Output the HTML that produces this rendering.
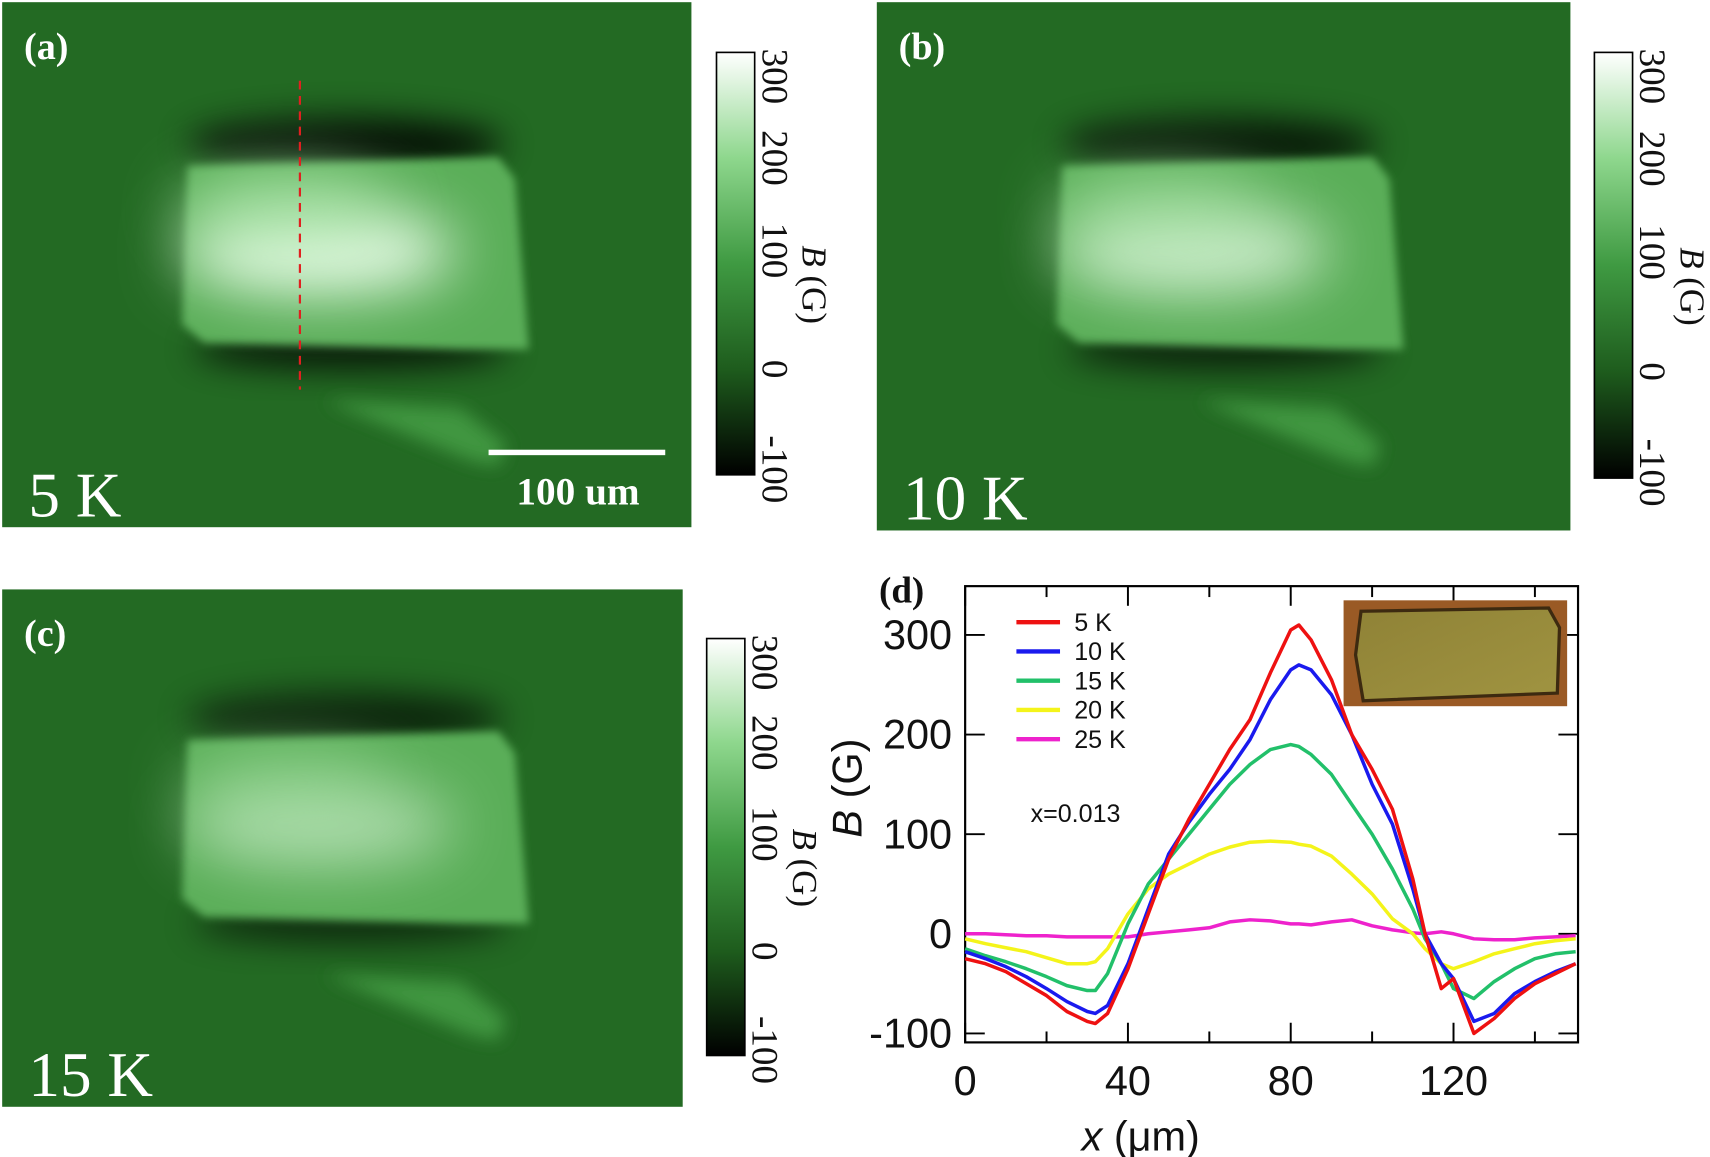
<!DOCTYPE html>
<html><head><meta charset="utf-8"><style>
html,body{margin:0;padding:0;background:#fff;}
svg{display:block;}
</style></head><body>
<svg id="fig" width="1710" height="1157" viewBox="0 0 1568 1060" preserveAspectRatio="none" xmlns="http://www.w3.org/2000/svg">
<defs>
<filter id="b3" x="-20%" y="-20%" width="140%" height="140%"><feGaussianBlur stdDeviation="4"/></filter>
<filter id="b8" x="-30%" y="-30%" width="160%" height="160%"><feGaussianBlur stdDeviation="8"/></filter>
<filter id="b15" x="-50%" y="-80%" width="200%" height="260%"><feGaussianBlur stdDeviation="15"/></filter>
<filter id="b25" x="-50%" y="-80%" width="200%" height="260%"><feGaussianBlur stdDeviation="28"/></filter>
<linearGradient id="cbar" x1="0" y1="1" x2="0" y2="0">
<stop offset="0" stop-color="#000"/>
<stop offset="0.25" stop-color="#1e5c1d"/>
<stop offset="0.5" stop-color="#3f9a42"/>
<stop offset="0.75" stop-color="#8ed78d"/>
<stop offset="1" stop-color="#fff"/>
</linearGradient>
<linearGradient id="photo" x1="0" y1="0" x2="1" y2="1">
<stop offset="0" stop-color="#8f8236"/><stop offset="1" stop-color="#a09441"/>
</linearGradient>
</defs>
<g id="maps"></g>
<g id="chart"></g>
</svg>
<script>
// ---- chart data (panel d) ----
const xPos = [0,5,10,15,20,25,30,32,35,40,45,50,55,60,65,70,75,80,82,85,90,95,100,105,110,113,117,120,125,130,135,140,145,150];
const s5K  = [-25,-30,-38,-50,-62,-78,-88,-90,-80,-35,20,75,115,150,185,215,262,305,310,295,255,200,165,125,55,0,-55,-45,-100,-85,-65,-50,-40,-30];
const s10K = [-18,-25,-33,-43,-55,-68,-78,-80,-72,-30,25,80,112,140,165,195,235,265,270,265,240,200,150,110,45,0,-30,-45,-88,-80,-60,-48,-38,-30];
const s15K = [-15,-22,-28,-35,-43,-52,-57,-57,-40,10,50,75,100,125,150,170,185,190,188,180,160,130,100,65,25,-5,-30,-55,-65,-48,-35,-25,-20,-18];
const s20K = [-5,-10,-14,-18,-24,-30,-30,-28,-15,20,45,60,70,80,87,92,93,92,90,88,78,60,40,15,0,-15,-30,-35,-28,-20,-15,-10,-7,-5];
const s25K = [0,0,-1,-2,-2,-3,-3,-3,-3,-3,0,2,4,6,12,14,13,10,10,9,12,14,8,4,1,0,2,0,-5,-6,-6,-4,-3,-2];
const seriesNames = ["5 K","10 K","15 K","20 K","25 K"];
const seriesColors = ["#ee1111","#1a1aee","#22c06a","#f4f41a","#ee22cc"];
const xTicks = [0,40,80,120];
const xMinor = [20,60,100,140];
const yTicks = [-100,0,100,200,300];
const cbTicks = [300,200,100,0,-100];

const NS="http://www.w3.org/2000/svg";
const NARROW='"Liberation Sans Narrow", "Liberation Sans", sans-serif';
function mk(tag,attrs,parent){const e=document.createElementNS(NS,tag);for(const k in attrs)e.setAttribute(k,attrs[k]);parent.appendChild(e);return e;}

// ---- maps ----
const maps=document.getElementById('maps');
const panels=[
 {x:2,y:2,w:632,h:481,lab:"(a)",T:"5 K",core:1.0,cb:[657,48,35,387],dash:true,scale:true,dy:0},
 {x:804,y:2,w:636,h:484,lab:"(b)",T:"10 K",core:0.8,cb:[1462,48,35,390],dash:false,scale:false,dy:0},
 {x:2,y:540,w:624,h:474,lab:"(c)",T:"15 K",core:0.55,cb:[648,585,35,382],dash:false,scale:false,dy:-12}
];
panels.forEach((p,i)=>{
 const g=mk('g',{transform:`translate(${p.x},${p.y})`},maps);
 
 
 mk('rect',{x:0,y:0,width:p.w,height:p.h,fill:'#236a23'},g);
 const s=mk('g',{transform:`translate(0,${p.dy})`},g);
 mk('ellipse',{cx:315,cy:130,rx:145,ry:24,fill:'#000',opacity:0.85*(0.5+p.core/2),filter:'url(#b15)'},s);
 mk('ellipse',{cx:320,cy:318,rx:145,ry:18,fill:'#000',opacity:0.8*(0.5+p.core/2),filter:'url(#b15)'},s);
 mk('polygon',{points:'296,365 420,372 462,405 455,425 430,420',fill:'#40963f',filter:'url(#b8)'},s);
 mk('polygon',{points:'170,150 455,142 470,162 483,318 420,318 185,312 165,295',fill:'#5aae58',filter:'url(#b3)'},s);
 mk('ellipse',{cx:290,cy:228,rx:125,ry:38,fill:'#f0fff0',opacity:p.core,filter:'url(#b25)'},s);
 mk('ellipse',{cx:260,cy:190,rx:100,ry:40,fill:'#a8e6a6',opacity:0.6*p.core,filter:'url(#b25)'},s);
 const lab=mk('text',{x:20,y:52,fill:'#fff','font-family':'Liberation Serif, serif','font-weight':'bold','font-size':35},g);
 lab.textContent=p.lab;
 
 
 const t=mk('text',{x:24,y:p.h-10,fill:'#fff','font-family':'Liberation Serif, serif','font-size':58},g);
 t.textContent=p.T;
 
 
 if(p.dash){
  const d=mk('line',{x1:273,y1:72,x2:273,y2:355,stroke:'#e02020','stroke-width':2,'stroke-dasharray':'8,6'},g);
  
  
 }
 if(p.scale){
  const sb=mk('rect',{x:446,y:410,width:162,height:5,fill:'#fff'},g);
  
  
  const st=mk('text',{x:528,y:460,fill:'#fff','font-family':'Liberation Serif, serif','font-weight':'bold','font-size':36,'text-anchor':'middle'},g);
  st.textContent='100 um';
  
  
 }
 // colorbar
 const [cx,cy,cw,ch]=p.cb;
 const cb=mk('rect',{x:cx,y:cy,width:cw,height:ch,fill:'url(#cbar)',stroke:'#000','stroke-width':1.5},maps);
 
 
 const cbV=v=>cy+ (300-v)/400*ch;
 cbTicks.forEach(v=>{
  let yy=cbV(v)+ (v===300?22:(v===-100?-5:(v===100?-12:0)));
  const tt=mk('text',{x:cx+cw+7,y:yy,'font-family':'Liberation Serif, serif','font-size':34,fill:'#111','text-anchor':'middle',transform:`rotate(90 ${cx+cw+7} ${yy})`},maps);
  tt.textContent=String(v);
  
  
 });
 const ty=cy+ch*0.55, tx=cx+cw+44;
 const ct=mk('text',{x:tx,y:ty,'font-family':'Liberation Serif, serif','font-size':32,fill:'#111','text-anchor':'middle',transform:`rotate(90 ${tx} ${ty})`},maps);
 ct.innerHTML='<tspan font-style="italic">B</tspan> (G)';
 
 
});

// ---- chart ----
const C=document.getElementById('chart');
const L=885,R=1447,T=537,B=955;
const X0=0,X1=150.6,Y0=-109,Y1=349;
const sx=v=>L+(v-X0)/(X1-X0)*(R-L);
const sy=v=>B-(v-Y0)/(Y1-Y0)*(B-T);
const frame=mk('rect',{x:L,y:T,width:R-L,height:B-T,fill:'none',stroke:'#000','stroke-width':2},C);


xTicks.concat(xMinor).forEach(v=>{
 const len=xTicks.includes(v)?18:10;
 mk('line',{x1:sx(v),y1:B,x2:sx(v),y2:B-len,stroke:'#000','stroke-width':1.8},C);
 mk('line',{x1:sx(v),y1:T,x2:sx(v),y2:T+len,stroke:'#000','stroke-width':1.8},C);
});
xTicks.forEach(v=>{
 const t=mk('text',{x:sx(v),y:B+48,'font-family':NARROW,'font-size':38,'text-anchor':'middle',fill:'#111'},C);
 t.textContent=String(v);
 
 
});
yTicks.forEach(v=>{
 mk('line',{x1:L,y1:sy(v),x2:L+18,y2:sy(v),stroke:'#000','stroke-width':1.8},C);
 mk('line',{x1:R,y1:sy(v),x2:R-18,y2:sy(v),stroke:'#000','stroke-width':1.8},C);
 const t=mk('text',{x:L-12,y:sy(v)+13,'font-family':NARROW,'font-size':38,'text-anchor':'end',fill:'#111'},C);
 t.textContent=String(v);
 
 
});
const xt=mk('text',{x:(L+R)/2-120,y:1054,'font-family':NARROW,'font-size':38,'text-anchor':'middle',fill:'#111'},C);
xt.innerHTML='<tspan font-style="italic">x</tspan> (μm)';


const yt=mk('text',{x:790,y:722,'font-family':NARROW,'font-size':38,'text-anchor':'middle',fill:'#111',transform:'rotate(-90 790 722)'},C);
yt.innerHTML='<tspan font-style="italic">B</tspan> (G)';


const dl=mk('text',{x:806,y:552,'font-family':'Liberation Serif, serif','font-weight':'bold','font-size':34,fill:'#111'},C);
dl.textContent='(d)';



// inset photo
const ph=mk('g',{},C);


mk('rect',{x:1232,y:550,width:205,height:97,fill:'#9a5a25'},ph);
mk('polygon',{points:'1248,560 1420,557 1430,575 1428,635 1250,642 1243,600',fill:'url(#photo)',stroke:'#3d2a10','stroke-width':3},ph);

const sets=[s5K,s10K,s15K,s20K,s25K];
for(let k=sets.length-1;k>=0;k--){
 const d=xPos.map((x,i)=>(i?'L':'M')+sx(x).toFixed(1)+','+sy(sets[k][i]).toFixed(1)).join(' ');
 const pth=mk('path',{d:d,fill:'none',stroke:seriesColors[k],'stroke-width':3.2,'stroke-linejoin':'round'},C);
 
 
}
seriesNames.forEach((n,k)=>{
 const yy=570+k*26.8;
 const ln=mk('line',{x1:932,y1:yy,x2:972,y2:yy,stroke:seriesColors[k],'stroke-width':4},C);
 
 
 const t=mk('text',{x:985,y:yy+8,'font-family':NARROW,'font-size':23,fill:'#111'},C);
 t.textContent=n;
 
 
});
const ann=mk('text',{x:945,y:753,'font-family':NARROW,'font-size':23,fill:'#111'},C);
ann.textContent='x=0.013';


</script>
</body></html>
